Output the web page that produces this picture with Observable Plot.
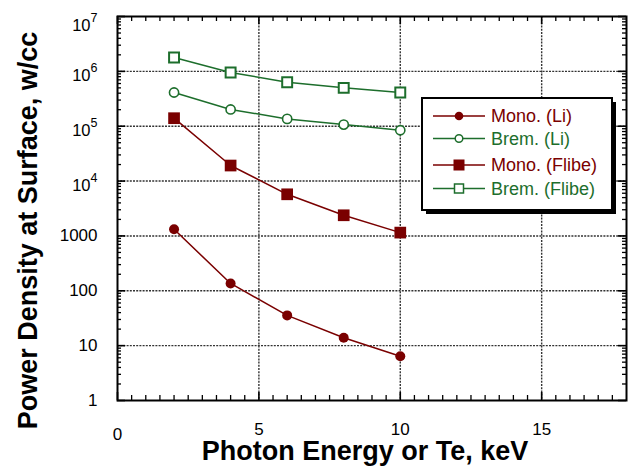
<!DOCTYPE html>
<html><head><meta charset="utf-8">
<script src="https://cdn.jsdelivr.net/npm/d3@7"></script>
<script src="https://cdn.jsdelivr.net/npm/@observablehq/plot@0.6"></script>
<style>body{margin:0;background:#fff;}</style>
</head><body><div id="chart"></div>
<script>
const energy = [2, 4, 6, 8, 10];
const monoLi = [1320, 136, 35.6, 13.9, 6.4];
const bremLi = [412000, 202000, 136000, 107000, 84500];
const monoFlibe = [140000, 19200, 5740, 2380, 1150];
const bremFlibe = [1790000, 955000, 635000, 500000, 412000];
const seriesNames = ["Mono. (Li)", "Brem. (Li)", "Mono. (Flibe)", "Brem. (Flibe)"];
const xTicks = [0, 5, 10, 15];
const xMinor = d3.range(0.5, 18, 0.5).filter(v => v % 5 !== 0);
const yTicks = [1, 10, 100, 1000, 1e4, 1e5, 1e6, 1e7];
const yTickLabels = ["1", "10", "100", "1000", "10^4", "10^5", "10^6", "10^7"];
const yMinor = d3.range(0, 7).flatMap(p => d3.range(2, 10).map(k => k * 10 ** p));
const xTitle = "Photon Energy or Te, keV";
const yTitle = "Power Density at Surface, w/cc";

const RED = "#7a0000";
const GREEN = "#1d6e2c";
const toRows = vals => energy.map((x, i) => ({x, y: vals[i]}));
const rMonoLi = toRows(monoLi), rBremLi = toRows(bremLi), rMonoFl = toRows(monoFlibe), rBremFl = toRows(bremFlibe);

const W = 634, H = 470, ML = 117, MR = 8, MT = 16, MB = 70;
const PW = W - ML - MR, PH = H - MT - MB;
const grid = {stroke: "#333", strokeDasharray: "2,1.2", strokeWidth: 1.4};

const chart = Plot.plot({
  width: W, height: H,
  marginLeft: ML, marginRight: MR, marginTop: MT, marginBottom: MB,
  style: {fontFamily: "'Liberation Sans', Arial, Helvetica, sans-serif", background: "#fff", color: "#000"},
  x: {domain: [0, 18]},
  y: {type: "log", domain: [1, 1e7]},
  marks: [
    Plot.ruleX(xTicks.filter(v => v > 0), grid),
    Plot.ruleY(yTicks.filter(v => v > 1 && v < 1e7), grid),
    // minor / major ticks inside the frame
    Plot.tickX(xMinor, {x: d => d, insetTop: PH - 5, strokeWidth: 1.3}),
    Plot.tickX(xMinor, {x: d => d, insetBottom: PH - 5, strokeWidth: 1.3}),
    Plot.tickX(xTicks, {x: d => d, insetTop: PH - 8, strokeWidth: 1.6}),
    Plot.tickX(xTicks, {x: d => d, insetBottom: PH - 8, strokeWidth: 1.6}),
    Plot.tickY(yMinor, {y: d => d, insetRight: PW - 4, strokeWidth: 1.3}),
    Plot.tickY(yMinor, {y: d => d, insetLeft: PW - 4, strokeWidth: 1.3}),
    Plot.tickY(yTicks, {y: d => d, insetRight: PW - 8, strokeWidth: 1.6}),
    Plot.tickY(yTicks, {y: d => d, insetLeft: PW - 8, strokeWidth: 1.6}),
    // series
    Plot.line(rBremFl, {x: "x", y: "y", stroke: GREEN, strokeWidth: 1.5}),
    Plot.line(rBremLi, {x: "x", y: "y", stroke: GREEN, strokeWidth: 1.5}),
    Plot.line(rMonoFl, {x: "x", y: "y", stroke: RED, strokeWidth: 1.5}),
    Plot.line(rMonoLi, {x: "x", y: "y", stroke: RED, strokeWidth: 1.5}),
    Plot.dot(rBremFl, {x: "x", y: "y", symbol: "square", r: 5.6, fill: "#fff", stroke: GREEN, strokeWidth: 2}),
    Plot.dot(rBremLi, {x: "x", y: "y", r: 4.6, fill: "#fff", stroke: GREEN, strokeWidth: 1.6}),
    Plot.dot(rMonoFl, {x: "x", y: "y", symbol: "square", r: 6.6, fill: RED, stroke: "none"}),
    Plot.dot(rMonoLi, {x: "x", y: "y", r: 5, fill: RED, stroke: "none"}),
    Plot.frame({stroke: "#000", strokeWidth: 2}),
    // axes
    Plot.axisY(yTicks, {tickSize: 0, tickPadding: 20, fontSize: 17, label: null,
      tickFormat: d => yTickLabels[yTicks.indexOf(d)]}),
    Plot.axisX([0], {tickSize: 0, tickPadding: 27, fontSize: 17, label: null, tickFormat: d => String(d)}),
    Plot.axisX(xTicks.filter(v => v > 0), {tickSize: 0, tickPadding: 22, fontSize: 17, label: null, tickFormat: d => String(d)}),
    Plot.text([xTitle], {frameAnchor: "bottom", textAnchor: "middle", dy: 51, dx: -7, lineAnchor: "middle", fontSize: 27, fontWeight: "bold", fill: "#000"}),
    Plot.text([yTitle], {frameAnchor: "left", textAnchor: "middle", rotate: -90, dx: -89, dy: 22, lineAnchor: "middle", fontSize: 27, fontWeight: "bold", fill: "#000"})
  ]
});
document.getElementById("chart").appendChild(chart);

// superscript exponents on y tick labels
const svg = d3.select(chart);
svg.selectAll("text").each(function () {
  const t = d3.select(this);
  const s = t.text();
  if (/^10\^\d$/.test(s) && this.childNodes.length === 1) {
    const exp = s.split("^")[1];
    t.text("");
    t.attr("font-size", 16.5);
    if (exp === "7") t.attr("transform", (t.attr("transform") || "") + " translate(0,4.5)");
    t.append("tspan").attr("dy", 4.5).text("10");
    t.append("tspan").attr("dy", -9).attr("font-size", 12.5).text(exp);
  }
});

// legend
const lg = svg.append("g").attr("font-family", "'Liberation Sans', Arial, sans-serif").attr("text-anchor", "start");
const LX = 422, LY = 98, LW = 190, LH = 112;
lg.append("rect").attr("x", LX + 4).attr("y", LY + 4).attr("width", LW).attr("height", LH).attr("fill", "#000");
lg.append("rect").attr("x", LX).attr("y", LY).attr("width", LW).attr("height", LH).attr("fill", "#fff").attr("stroke", "#000").attr("stroke-width", 2);
const entryY = [116, 138.5, 165, 188.5];
const styles = [
  {c: RED, m: "fcircle"}, {c: GREEN, m: "ocircle"}, {c: RED, m: "fsquare"}, {c: GREEN, m: "osquare"}
];
seriesNames.forEach((name, i) => {
  const y = entryY[i], st = styles[i];
  lg.append("line").attr("x1", 433).attr("x2", 485).attr("y1", y).attr("y2", y).attr("stroke", st.c).attr("stroke-width", 1.5);
  if (st.m === "fcircle") lg.append("circle").attr("cx", 459).attr("cy", y).attr("r", 4.3).attr("fill", st.c);
  if (st.m === "ocircle") lg.append("circle").attr("cx", 459).attr("cy", y).attr("r", 3.8).attr("fill", "#fff").attr("stroke", st.c).attr("stroke-width", 1.5);
  if (st.m === "fsquare") lg.append("rect").attr("x", 453.5).attr("y", y - 5.5).attr("width", 11).attr("height", 11).attr("fill", st.c);
  if (st.m === "osquare") lg.append("rect").attr("x", 454.5).attr("y", y - 4.5).attr("width", 9).attr("height", 9).attr("fill", "#fff").attr("stroke", st.c).attr("stroke-width", 1.5);
  lg.append("text").attr("x", 491).attr("y", y).attr("dy", "0.36em").attr("font-size", 18).attr("text-anchor", "start").attr("fill", st.c).text(name);
});
</script>
</body></html>
